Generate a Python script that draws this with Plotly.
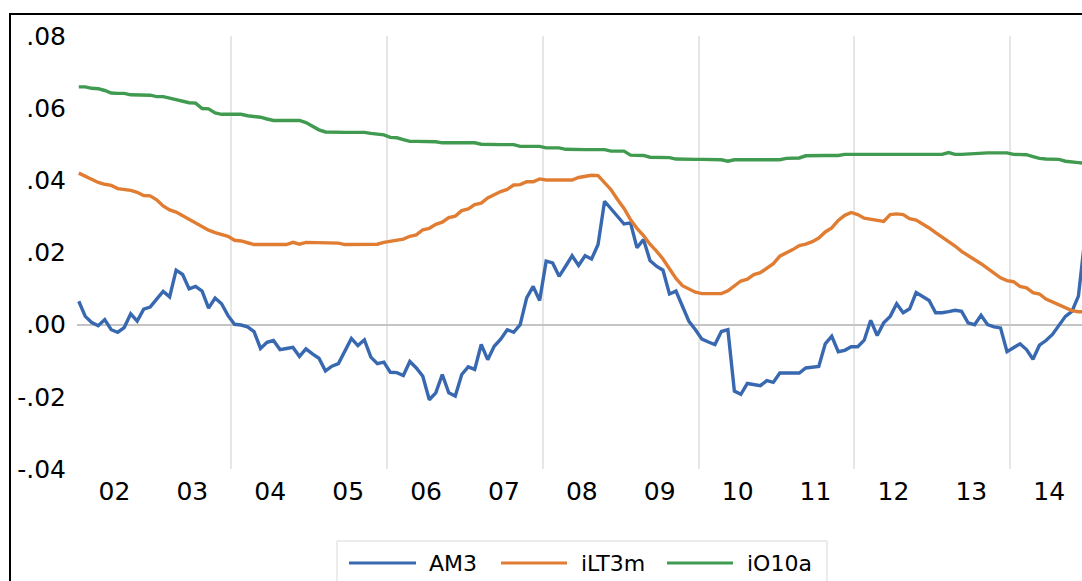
import plotly.graph_objects as go

# ---------------- data (monthly, 2002M01 - 2014M12) ----------------
start_year = 2002
n_years = 13

am3 = [
    0.0065, 0.0023, 0.0006, -0.0003, 0.0014, -0.0014, -0.0021, -0.0008, 0.0030, 0.0010, 0.0043, 0.0049,
    0.0071, 0.0092, 0.0077, 0.0151, 0.0139, 0.0099, 0.0106, 0.0093, 0.0046, 0.0074, 0.0058, 0.0025,
    0.0001, -0.0001, -0.0006, -0.0019, -0.0066, -0.0049, -0.0044, -0.0069, -0.0066, -0.0063, -0.0088, -0.0067,
    -0.0081, -0.0093, -0.0128, -0.0115, -0.0108, -0.0073, -0.0038, -0.0058, -0.0042, -0.0090, -0.0108, -0.0104,
    -0.0132, -0.0133, -0.0141, -0.0102, -0.0120, -0.0143, -0.0208, -0.0189, -0.0138, -0.0189, -0.0198, -0.0138,
    -0.0117, -0.0124, -0.0055, -0.0097, -0.0060, -0.0040, -0.0014, -0.0021, 0.0000, 0.0074, 0.0106, 0.0067,
    0.0176, 0.0171, 0.0134, 0.0162, 0.0191, 0.0164, 0.0191, 0.0182, 0.0222, 0.0342, 0.0321, 0.0297,
    0.0279, 0.0282, 0.0213, 0.0236, 0.0178, 0.0162, 0.0151, 0.0085, 0.0093, 0.0051, 0.0009, -0.0014,
    -0.0040, -0.0048, -0.0055, -0.0019, -0.0014, -0.0184, -0.0193, -0.0163, -0.0166, -0.0169, -0.0155, -0.0160,
    -0.0134, -0.0134, -0.0134, -0.0134, -0.0120, -0.0118, -0.0116, -0.0053, -0.0032, -0.0075, -0.0071, -0.0061,
    -0.0061, -0.0043, 0.0012, -0.0030, 0.0005, 0.0023, 0.0058, 0.0033, 0.0044, 0.0089, 0.0077, 0.0067,
    0.0033, 0.0033, 0.0036, 0.0040, 0.0037, 0.0005, 0.0000, 0.0026, 0.0000, -0.0006, -0.0009, -0.0075,
    -0.0064, -0.0053, -0.0069, -0.0096, -0.0057, -0.0044, -0.0027, 0.0000, 0.0023, 0.0037, 0.0079, 0.0240,
]

ilt3m = [
    0.0420, 0.0411, 0.0401, 0.0394, 0.0389, 0.0386, 0.0377, 0.0375, 0.0372, 0.0367, 0.0358, 0.0357,
    0.0346, 0.0329, 0.0318, 0.0312, 0.0302, 0.0290, 0.0280, 0.0270, 0.0262, 0.0255, 0.0251, 0.0245,
    0.0234, 0.0232, 0.0227, 0.0222, 0.0222, 0.0222, 0.0222, 0.0222, 0.0222, 0.0228, 0.0223, 0.0228,
    0.0228, 0.0228, 0.0228, 0.0228, 0.0226, 0.0222, 0.0222, 0.0222, 0.0222, 0.0222, 0.0223, 0.0228,
    0.0231, 0.0233, 0.0237, 0.0245, 0.0249, 0.0263, 0.0267, 0.0278, 0.0284, 0.0297, 0.0301, 0.0316,
    0.0321, 0.0333, 0.0337, 0.0351, 0.0360, 0.0369, 0.0375, 0.0387, 0.0388, 0.0396, 0.0396, 0.0404,
    0.0401, 0.0401, 0.0401, 0.0401, 0.0401, 0.0408, 0.0410, 0.0414, 0.0413, 0.0394, 0.0374, 0.0347,
    0.0322, 0.0291, 0.0267, 0.0247, 0.0223, 0.0204, 0.0182, 0.0155, 0.0128, 0.0108, 0.0098, 0.0090,
    0.0086, 0.0086, 0.0086, 0.0086, 0.0094, 0.0107, 0.0121, 0.0126, 0.0139, 0.0144, 0.0157, 0.0169,
    0.0190, 0.0198, 0.0208, 0.0219, 0.0223, 0.0230, 0.0240, 0.0257, 0.0268, 0.0289, 0.0303, 0.0311,
    0.0305, 0.0295, 0.0292, 0.0289, 0.0286, 0.0305, 0.0307, 0.0305, 0.0294, 0.0290, 0.0280, 0.0268,
    0.0255, 0.0243, 0.0230, 0.0218, 0.0203, 0.0192, 0.0180, 0.0169, 0.0156, 0.0142, 0.0130, 0.0122,
    0.0119, 0.0106, 0.0102, 0.0089, 0.0085, 0.0071, 0.0063, 0.0053, 0.0045, 0.0039, 0.0036, 0.0036,
]

io10a = [
    0.0659, 0.0659, 0.0655, 0.0654, 0.0649, 0.0642, 0.0641, 0.0641, 0.0637, 0.0636, 0.0636, 0.0636,
    0.0632, 0.0632, 0.0628, 0.0624, 0.0620, 0.0615, 0.0614, 0.0599, 0.0598, 0.0587, 0.0583, 0.0583,
    0.0583, 0.0583, 0.0579, 0.0578, 0.0575, 0.0570, 0.0566, 0.0566, 0.0566, 0.0566, 0.0566, 0.0560,
    0.0549, 0.0540, 0.0534, 0.0533, 0.0533, 0.0533, 0.0533, 0.0533, 0.0533, 0.0530, 0.0529, 0.0526,
    0.0519, 0.0518, 0.0513, 0.0508, 0.0508, 0.0508, 0.0508, 0.0507, 0.0504, 0.0504, 0.0504, 0.0504,
    0.0504, 0.0504, 0.0500, 0.0499, 0.0499, 0.0499, 0.0499, 0.0499, 0.0494, 0.0494, 0.0494, 0.0494,
    0.0490, 0.0490, 0.0490, 0.0486, 0.0485, 0.0485, 0.0485, 0.0485, 0.0485, 0.0485, 0.0481, 0.0481,
    0.0481, 0.0470, 0.0469, 0.0469, 0.0464, 0.0463, 0.0463, 0.0463, 0.0459, 0.0458, 0.0458, 0.0458,
    0.0458, 0.0458, 0.0458, 0.0457, 0.0453, 0.0457, 0.0457, 0.0457, 0.0457, 0.0457, 0.0457, 0.0457,
    0.0457, 0.0461, 0.0462, 0.0462, 0.0468, 0.0469, 0.0469, 0.0469, 0.0469, 0.0469, 0.0472, 0.0472,
    0.0472, 0.0472, 0.0472, 0.0472, 0.0472, 0.0472, 0.0472, 0.0472, 0.0472, 0.0472, 0.0472, 0.0472,
    0.0472, 0.0472, 0.0477, 0.0472, 0.0472, 0.0473, 0.0476, 0.0476, 0.0476, 0.0476, 0.0476, 0.0476,
    0.0472, 0.0472, 0.0471, 0.0466, 0.0461, 0.0459, 0.0458, 0.0458, 0.0453, 0.0450, 0.0449, 0.0447,
]

series_names = ["AM3", "iLT3m", "iO10a"]
series_colors = ["#3868B0", "#E07D32", "#409B50"]

year_labels = ["02", "03", "04", "05", "06", "07", "08", "09", "10", "11", "12", "13", "14"]
y_tick_vals = [0.08, 0.06, 0.04, 0.02, 0.0, -0.02, -0.04]
y_tick_text = [".08", ".06", ".04", ".02", ".00", "-.02", "-.04"]
y_grid_vals = [0.06, 0.04, 0.02, -0.02]
x_grid_years = [2004, 2006, 2008, 2010, 2012, 2014]

# time positions (mid-month, in decimal years)
t = [start_year + (i + 0.5) / 12 for i in range(n_years * 12)]
year_centers = [start_year + k + 0.5 for k in range(n_years)]

# ---------------- layout geometry ----------------
W, H = 1082, 581
L, R, T, B = 77, 1082, 36, 469
FONT = "DejaVu Sans"


def fx(p):
    return (p - L) / (R - L)


def fy(p):
    return (B - p) / (B - T)


fig = go.Figure()
for name, vals, col in zip(series_names, [am3, ilt3m, io10a], series_colors):
    fig.add_trace(go.Scatter(x=t, y=vals, mode="lines", name=name,
                             line=dict(color=col, width=3.4), showlegend=False))

fig.update_layout(
    width=W, height=H, autosize=False,
    margin=dict(l=L, r=W - R, t=T, b=H - B, pad=0),
    paper_bgcolor="white", plot_bgcolor="white",
    font=dict(family=FONT, color="#000000"),
    xaxis=dict(
        range=[2002.019, 2014.921], tickmode="array", tickvals=year_centers,
        ticktext=year_labels, showgrid=False, zeroline=False, showline=False,
        ticks="", tickfont=dict(size=25, family=FONT, color="#000"),
        ticklabelstandoff=5,
        minor=dict(tickmode="array", tickvals=x_grid_years, showgrid=True,
                   gridcolor="#E6E6E6", gridwidth=2, ticks=""),
    ),
    yaxis=dict(
        range=[-0.04, 0.08], tickmode="array", tickvals=y_tick_vals,
        ticktext=y_tick_text, showgrid=False, zeroline=True,
        zerolinecolor="#C4C4C4", zerolinewidth=2, showline=False, ticks="",
        tickfont=dict(size=25, family=FONT, color="#000"),
        ticklabelstandoff=10,
    ),
    yaxis2=dict(
        range=[-0.04, 0.08], overlaying="y", anchor="x", tickmode="array",
        tickvals=y_grid_vals, showticklabels=False, showgrid=True,
        gridcolor="#E6E6E6", gridwidth=2, zeroline=False, ticks="",
    ),
)

shapes = []
# outer frame (partly cropped)
shapes.append(dict(type="rect", xref="paper", yref="paper",
                   x0=fx(10), x1=fx(1110), y0=fy(620), y1=fy(14),
                   line=dict(color="#000000", width=2), fillcolor="rgba(0,0,0,0)"))
# legend box
shapes.append(dict(type="rect", xref="paper", yref="paper",
                   x0=fx(337), x1=fx(827), y0=fy(620), y1=fy(541),
                   line=dict(color="#D9D9D9", width=1), fillcolor="rgba(0,0,0,0)"))

legend_line_x = [(349, 416), (501, 567), (667, 733)]
legend_text_x = [427, 579, 745]
legend_y = 563
annotations = []
for (a, b), tx, name, col in zip(legend_line_x, legend_text_x, series_names, series_colors):
    shapes.append(dict(type="line", xref="paper", yref="paper",
                       x0=fx(a), x1=fx(b), y0=fy(legend_y), y1=fy(legend_y),
                       line=dict(color=col, width=3)))
    annotations.append(dict(xref="paper", yref="paper", x=fx(tx), y=fy(legend_y),
                            text=name, showarrow=False, xanchor="left", yanchor="middle",
                            font=dict(size=22, family=FONT, color="#000")))

fig.update_layout(shapes=shapes, annotations=annotations)

fig.write_html(
    "out.html",
    config={"displayModeBar": False},
    post_script="document.body.style.margin='0';document.body.style.overflow='hidden';",
)
